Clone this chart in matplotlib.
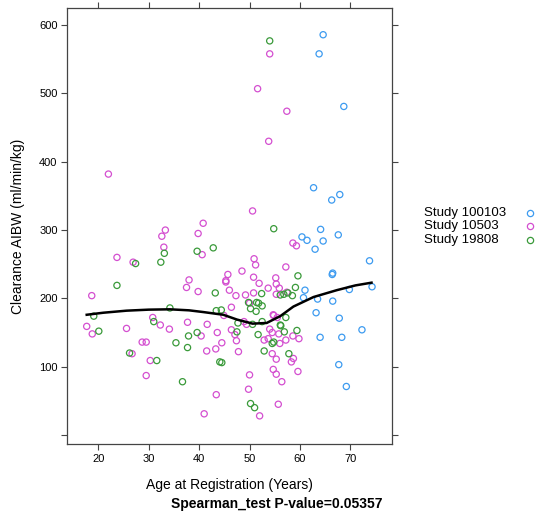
import matplotlib
matplotlib.use("Agg")
import matplotlib.pyplot as plt
from matplotlib.lines import Line2D

plt.rcParams['font.family'] = ['Liberation Sans', 'DejaVu Sans']

# Study 100103
age_100103 = [64.6, 63.8, 68.7, 62.7, 66.3, 67.9, 60.4, 61.4, 64.1, 64.6,
              67.6, 63.0, 73.8, 66.4, 66.5, 61.0, 60.7, 69.8, 74.3, 63.5,
              66.5, 63.2, 67.8, 72.3, 64.0, 68.3, 67.7, 69.2]
clr_100103 = [586, 558, 481, 362, 344, 352, 290, 285, 301, 284,
              293, 272, 255, 235, 237, 212, 201, 213, 217, 199,
              196, 179, 171, 154, 143, 143, 103, 71]

# Study 10503
age_10503 = [54.0, 51.6, 57.4, 53.8, 22.0, 50.6, 40.8, 33.3, 32.6, 39.8,
             58.6, 59.3, 33.0, 40.6, 23.7, 26.9, 50.9, 51.2, 48.5, 57.2,
             38.0, 37.5, 39.8, 45.7, 45.3, 45.3, 46.0, 47.3, 49.2, 50.8,
             51.9, 50.8, 53.7, 55.2, 55.3, 55.9, 55.3, 57.4, 18.7, 46.4,
             50.0, 44.9, 54.8, 55.5, 54.7, 30.8, 37.7, 41.6, 32.3, 34.1,
             25.6, 17.7, 18.8, 48.9, 49.4, 40.4, 43.6, 44.5, 43.3, 41.5,
             46.4, 47.1, 47.4, 47.8, 28.7, 29.5, 26.7, 30.3, 29.5, 52.9,
             53.7, 54.0, 54.5, 56.0, 54.5, 55.3, 54.7, 55.3, 56.4, 55.7,
             55.8, 57.2, 58.6, 59.8, 58.7, 58.3, 59.6, 50.0, 49.8, 43.4,
             41.0, 52.0]
clr_10503 = [558, 507, 474, 430, 382, 328, 310, 300, 291, 295,
             281, 277, 275, 264, 260, 253, 258, 249, 240, 246,
             227, 216, 210, 235, 224, 226, 212, 204, 205, 231,
             222, 208, 215, 230, 221, 215, 206, 209, 204, 187,
             193, 175, 175, 172, 176, 172, 165, 162, 161, 155,
             156, 159, 148, 166, 162, 145, 150, 135, 126, 123,
             154, 147, 138, 122, 136, 136, 119, 109, 87, 139,
             141, 155, 150, 134, 119, 111, 96, 89, 78, 45,
             148, 139, 145, 141, 112, 107, 93, 88, 67, 59,
             31, 28]

# Study 19808
age_19808 = [54.0, 54.8, 39.6, 42.8, 33.1, 32.4, 27.4, 23.7, 43.2, 52.4,
             59.6, 59.1, 56.1, 56.8, 57.6, 58.5, 19.1, 20.1, 31.0, 34.2,
             26.2, 31.6, 35.4, 37.9, 37.7, 39.6, 43.4, 44.4, 44.1, 44.5,
             47.5, 47.7, 49.8, 50.2, 51.4, 51.8, 52.5, 51.3, 51.7, 52.5,
             52.9, 54.5, 54.8, 56.1, 57.2, 56.9, 59.4, 57.8, 36.7, 50.2,
             51.0, 50.6, 56.2]
clr_19808 = [577, 302, 269, 274, 266, 253, 251, 219, 208, 207,
             233, 216, 205, 206, 208, 204, 174, 152, 166, 186,
             120, 109, 135, 145, 128, 150, 182, 183, 107, 106,
             151, 164, 194, 185, 194, 193, 189, 181, 147, 166,
             123, 134, 136, 161, 172, 151, 153, 119, 78, 46,
             40, 162, 160]

# smoother
smooth_age = [17.7, 21.0, 25.6, 30.0, 34.2, 38.0, 40.8, 44.8, 47.5, 50.6,
              53.4, 56.1, 58.7, 62.7, 67.3, 71.0, 74.2]
smooth_clr = [176, 179, 182, 183.5, 184, 182.5, 180, 176, 169, 163,
              164, 174, 188, 202, 212, 219, 223]

studies = ['Study 100103', 'Study 10503', 'Study 19808']
colors = ['#3d9bf0', '#d44fd0', '#3a9a3a']

fig = plt.figure(figsize=(5.48, 5.14), dpi=100)
ax = fig.add_axes([67.3 / 548, 1 - 444 / 514, 324.4 / 548, 435.7 / 514])

for x, y, c in zip([age_100103, age_10503, age_19808],
                   [clr_100103, clr_10503, clr_19808], colors):
    ax.scatter(x, y, s=20, facecolors='none', edgecolors=c, linewidths=0.9)

ax.plot(smooth_age, smooth_clr, color='black', lw=1.8)

ax.set_xlim(13.85, 78.2)
ax.set_ylim(-13.2, 624.7)
ax.set_xticks([20, 30, 40, 50, 60, 70])
ax.set_yticks([0, 100, 200, 300, 400, 500, 600])
ax.set_yticklabels(['', '100', '200', '300', '400', '500', '600'])
ax.tick_params(direction='out', length=4, width=0.8, color='#444444',
               top=True, right=True, labelsize=8, pad=3)
for sp in ax.spines.values():
    sp.set_color('#444444')
    sp.set_linewidth(0.9)

fig.text(18 / 548, 1 - 226 / 514, 'Clearance AIBW (ml/min/kg)', rotation=90,
         ha='center', va='center', fontsize=10)
fig.text(229.5 / 548, 1 - 485 / 514, 'Age at Registration (Years)',
         ha='center', va='center', fontsize=10)
fig.text(277 / 548, 1 - 503.7 / 514, 'Spearman_test P-value=0.05357',
         ha='center', va='center', fontsize=10, fontweight='bold')

# key on the right, text left-aligned, symbol after it
for i, (lab, c) in enumerate(zip(studies, colors)):
    yy = 1 - (212.7 + i * 13.6) / 514
    fig.text(424 / 548, yy, lab, ha='left', va='center', fontsize=9.5)
    fig.add_artist(Line2D([530 / 548], [yy], transform=fig.transFigure,
                          marker='o', markersize=4.5, markerfacecolor='none',
                          markeredgecolor=c, markeredgewidth=0.9, linestyle='none'))

fig.savefig('out.png', dpi=100)
